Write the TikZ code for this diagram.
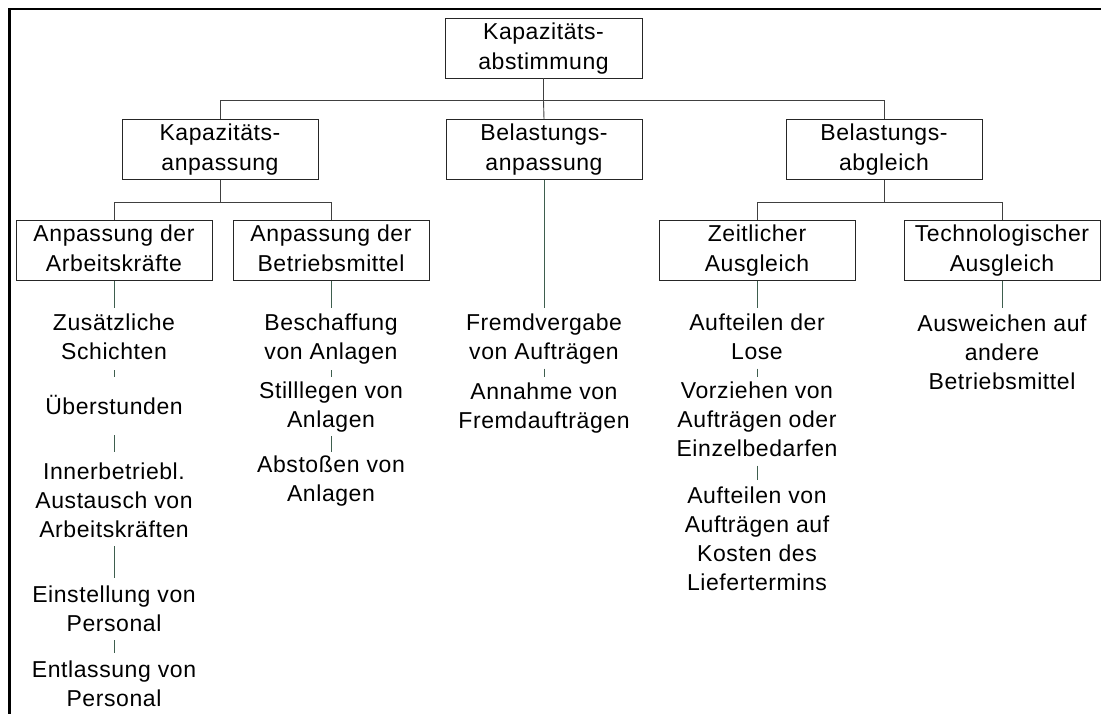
\documentclass[tikz,border=0pt]{standalone}
\usepackage{fontspec}
\setmainfont{Liberation Sans}[LetterSpace=2.5]
\usetikzlibrary{calc}
\definecolor{treeline}{HTML}{404040}
\definecolor{leafline}{HTML}{3E5E4E}
\definecolor{ink}{HTML}{000000}
\tikzset{
  box/.style={draw=black!85, line width=0.9pt, minimum width=196pt, minimum height=57pt,
    inner sep=0pt, align=center, text=ink,
    font=\fontsize{23}{30}\selectfont},
  leaf/.style={inner sep=0pt, align=center, text=ink,
    font=\fontsize{23}{29}\selectfont},
  tree/.style={draw=treeline, line width=0.9pt},
  link/.style={draw=leafline, line width=0.9pt},
}
\begin{document}
\begin{tikzpicture}[x=1pt, y=-1pt]
\useasboundingbox (0,0) rectangle (1101,713);
% outer frame (top and left edges)
\draw[line width=2.4pt] (9.3,716) -- (9.3,9) -- (1104,9);

% boxes
\node[box, minimum width=197pt, minimum height=58pt] (top) at (543.5,48) {\strut Kapazitäts-\\\strut abstimmung};
\node[box] (kap) at (220,149.5) {\strut Kapazitäts-\\\strut anpassung};
\node[box] (bel) at (544,149.5) {\strut Belastungs-\\\strut anpassung};
\node[box] (abg) at (884,149.5) {\strut Belastungs-\\\strut abgleich};
\node[box] (arb) at (114,250.5) {\strut Anpassung der\\\strut Arbeitskräfte};
\node[box] (bet) at (331,250.5) {\strut Anpassung der\\\strut Betriebsmittel};
\node[box] (zeit) at (757,250.5) {\strut Zeitlicher\\\strut Ausgleich};
\node[box] (tech) at (1002,250.5) {\strut Technologischer\\\strut Ausgleich};

% tree connectors
\path (top.south) ++(0,22) coordinate (j1);
\draw[tree] (top.south) -- (j1);
\draw[tree] (kap.north) |- (j1) -| (abg.north);
\draw[tree] (j1) -- (bel.north);
\path (kap.south) ++(0,22) coordinate (j2);
\draw[tree] (kap.south) -- (j2);
\draw[tree] (arb.north) |- (j2) -| (bet.north);
\path (abg.south) ++(0,22) coordinate (j3);
\draw[tree] (abg.south) -- (j3);
\draw[tree] (zeit.north) |- (j3) -| (tech.north);

% measures: workforce
\node[leaf] (a1) at (114,339.5) {\strut Zusätzliche\\\strut Schichten};
\node[leaf] (a2) at (114,409) {\strut Überstunden};
\node[leaf] (a3) at (114,502.5) {\strut Innerbetriebl.\\\strut Austausch von\\\strut Arbeitskräften};
\node[leaf] (a4) at (114,611) {\strut Einstellung von\\\strut Personal};
\node[leaf] (a5) at (114,686) {\strut Entlassung von\\\strut Personal};
\draw[link, shorten >=2.5pt] (arb.south) -- (a1.north);
\draw[link, shorten <=1.5pt, shorten >=17.5pt] (a1.south) -- (a2.north);
\draw[link, shorten <=11.5pt, shorten >=7pt] (a2.south) -- (a3.north);
\draw[link, shorten >=4pt] (a3.south) -- (a4.north);
\draw[link, shorten >=4pt] (a4.south) -- (a5.north);

% measures: equipment
\node[leaf] (b1) at (331,339.5) {\strut Beschaffung\\\strut von Anlagen};
\node[leaf] (b2) at (331,407) {\strut Stilllegen von\\\strut Anlagen};
\node[leaf] (b3) at (331,481.5) {\strut Abstoßen von\\\strut Anlagen};
\draw[link, shorten >=2.5pt] (bet.south) -- (b1.north);
\draw[link, shorten <=1.5pt, shorten >=1pt] (b1.south) -- (b2.north);
\draw[link, shorten >=0.5pt] (b2.south) -- (b3.north);

% load adjustment
\node[leaf] (c1) at (544,339.5) {\strut Fremdvergabe\\\strut von Aufträgen};
\node[leaf] (c2) at (544,408) {\strut Annahme von\\\strut Fremdaufträgen};
\draw[link, shorten >=2.5pt] (bel.south) -- (c1.north);
\draw[link, shorten >=2pt] (c1.south) -- (c2.north);

% temporal balancing
\node[leaf] (z1) at (757,339.5) {\strut Aufteilen der\\\strut Lose};
\node[leaf] (z2) at (757,422) {\strut Vorziehen von\\\strut Aufträgen oder\\\strut Einzelbedarfen};
\node[leaf] (z3) at (757,541) {\strut Aufteilen von\\\strut Aufträgen auf\\\strut Kosten des\\\strut Liefertermins};
\draw[link, shorten >=2.5pt] (zeit.south) -- (z1.north);
\draw[link, shorten >=1.5pt] (z1.south) -- (z2.north);
\draw[link, shorten >=3pt] (z2.south) -- (z3.north);

% technological balancing
\node[leaf] (t1) at (1002,355) {\strut Ausweichen auf\\\strut andere\\\strut Betriebsmittel};
\draw[link, shorten >=3.5pt] (tech.south) -- (t1.north);
\end{tikzpicture}
\end{document}
